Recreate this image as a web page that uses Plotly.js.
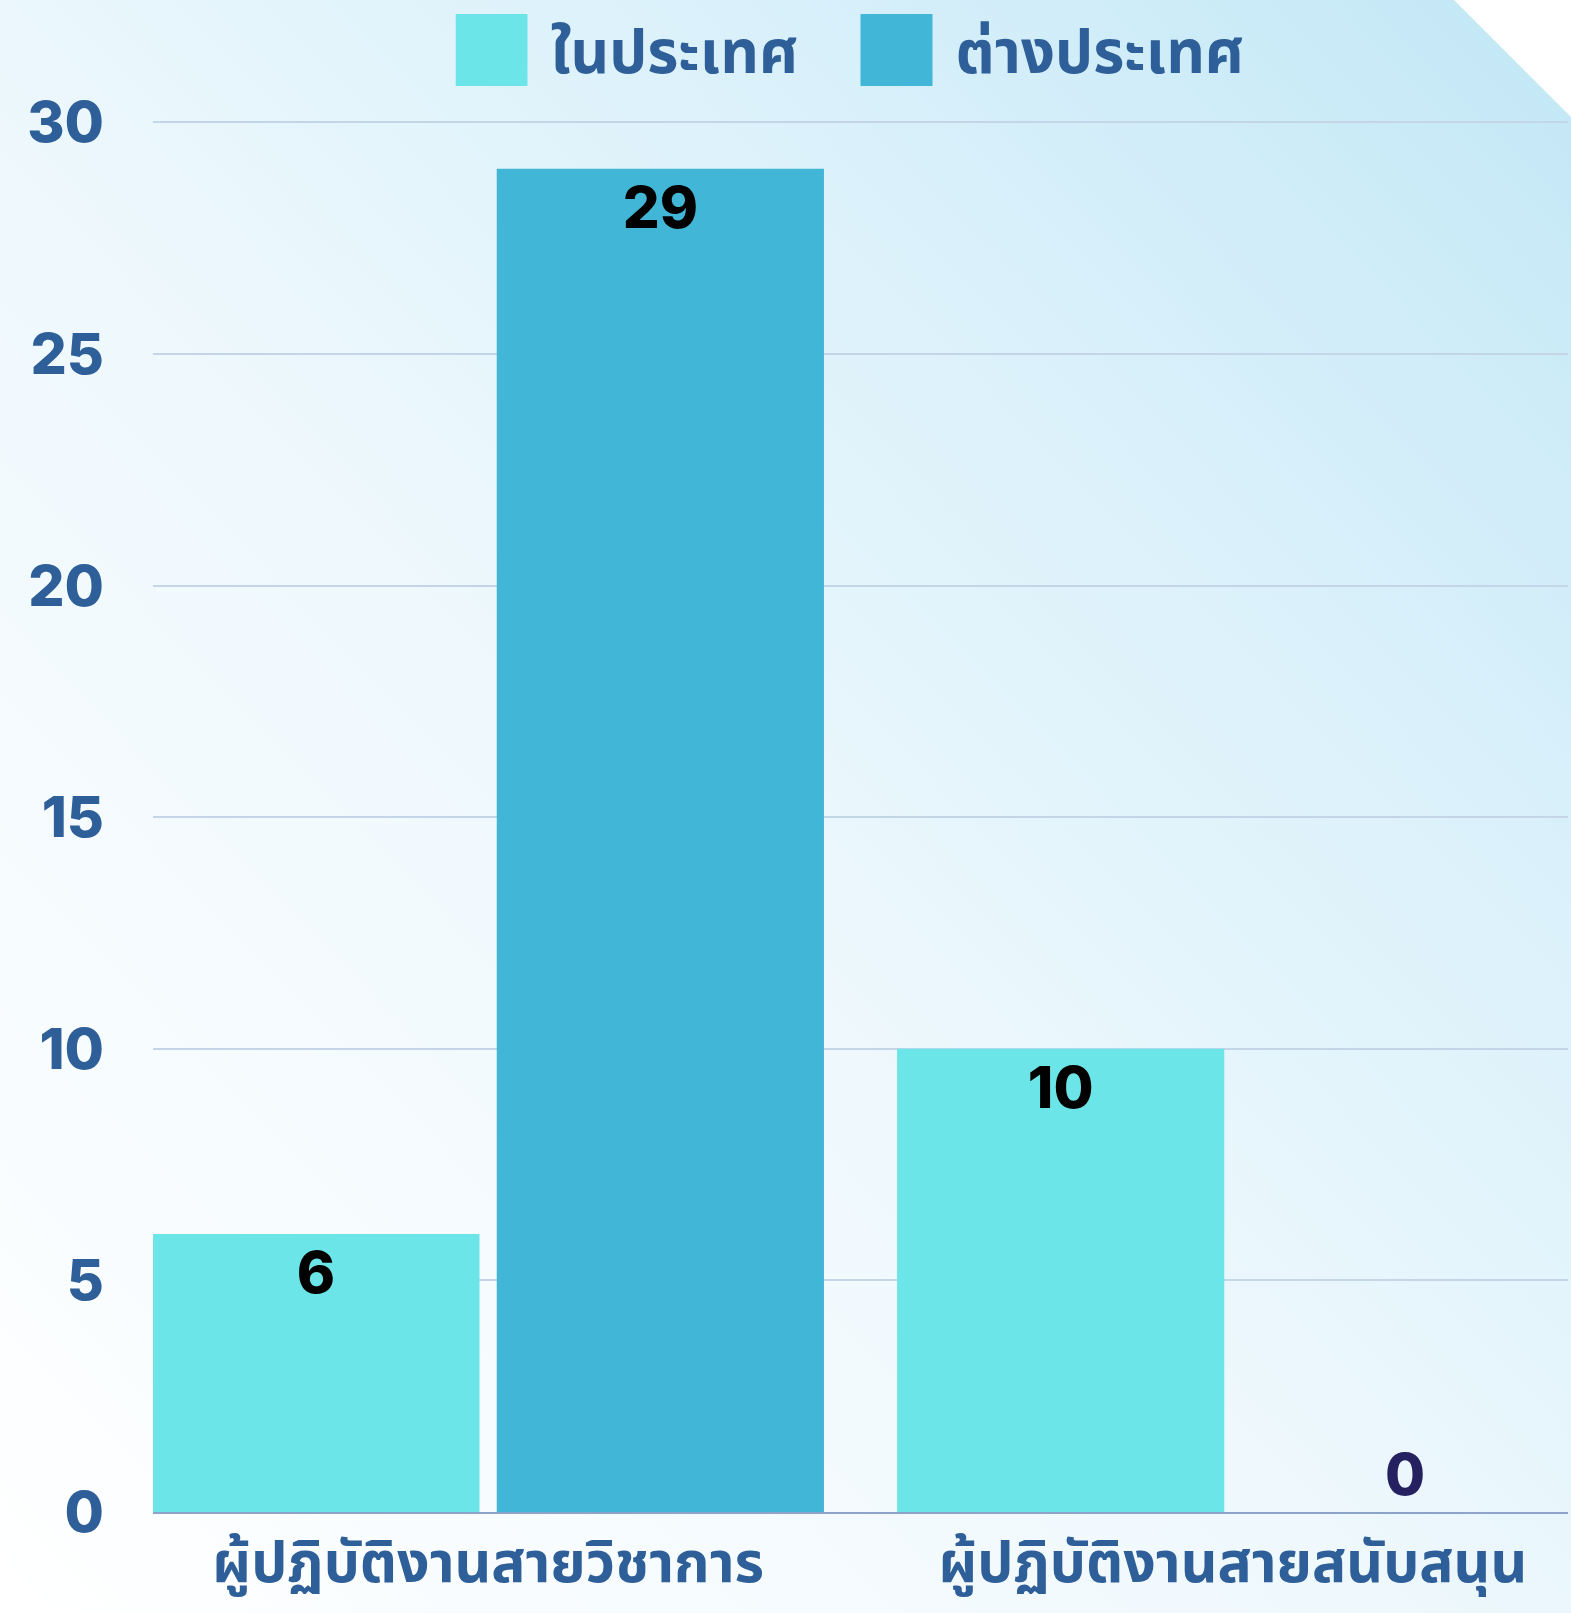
<!DOCTYPE html>
<html>
<head>
<meta charset="utf-8">
<script src="https://cdn.plot.ly/plotly-3.0.1.min.js"></script>
<style>
  html, body { margin: 0; padding: 0; background: #ffffff; }
  #chart {
    width: 1571px; height: 1613px;
    background: linear-gradient(to top right, #ffffff 0%, #eef8fd 45%, #d8f0fa 75%, #c2e7f6 100%);
    clip-path: polygon(0 0, 1454px 0, 100% 117px, 100% 100%, 0 100%);
  }
</style>
</head>
<body>
<div id="chart"></div>
<script>
const categories = ["ผู้ปฏิบัติงานสายวิชาการ", "ผู้ปฏิบัติงานสายสนับสนุน"];
const seriesNames = ["ในประเทศ", "ต่างประเทศ"];
const domesticValues = [6, 10];
const foreignValues = [29, 0];
const yTicks = [0, 5, 10, 15, 20, 25, 30];

const numFont = "Inter, Lato, 'Noto Sans', sans-serif";
const thaiFont = "'Noto Sans Thai', Kanit, Prompt, 'Noto Sans', sans-serif";

function labelPositions(vals) { return vals.map(v => v > 0 ? "inside" : "outside"); }

const traces = [
  {
    type: "bar", name: seriesNames[0], x: categories, y: domesticValues,
    marker: {color: "#6ce5e8"},
    text: domesticValues.map(String), textposition: labelPositions(domesticValues), insidetextanchor: "end",
    insidetextfont: {family: numFont, size: 58, color: "#000000", weight: 800},
    outsidetextfont: {family: numFont, size: 58, color: "#25205f", weight: 800},
    constraintext: "none", cliponaxis: false, hoverinfo: "skip"
  },
  {
    type: "bar", name: seriesNames[1], x: categories, y: foreignValues,
    marker: {color: "#42b6d6"},
    text: foreignValues.map(String), textposition: labelPositions(foreignValues), insidetextanchor: "end",
    insidetextfont: {family: numFont, size: 58, color: "#000000", weight: 800},
    outsidetextfont: {family: numFont, size: 58, color: "#25205f", weight: 800},
    constraintext: "none", cliponaxis: false, hoverinfo: "skip"
  }
];

const layout = {
  width: 1571, height: 1613,
  paper_bgcolor: "rgba(0,0,0,0)", plot_bgcolor: "rgba(0,0,0,0)",
  margin: {l: 153, r: 3, t: 121, b: 101},
  barmode: "group", bargap: 0.075, bargroupgap: 0.05,
  showlegend: true,
  legend: {
    orientation: "h", x: 0.5, xanchor: "center", y: 1.051, yanchor: "middle",
    bgcolor: "rgba(0,0,0,0)",
    font: {family: thaiFont, size: 60, color: "#2e5f98", weight: 700},
    itemwidth: 85, entrywidth: 305, entrywidthmode: "pixels",
    itemclick: false, itemdoubleclick: false
  },
  xaxis: {
    type: "category", range: [-0.45, 1.45],
    showgrid: false, zeroline: false,
    showline: true, linecolor: "#8ea3c9", linewidth: 2,
    ticks: "", ticklabelstandoff: 0,
    tickfont: {family: thaiFont, size: 57, color: "#2e5f98", weight: 700}
  },
  yaxis: {
    range: [0, 30.03], tickvals: yTicks, ticktext: yTicks.map(String),
    showgrid: true, gridcolor: "#c3d5e6", gridwidth: 2,
    zeroline: false, showline: false, ticks: "",
    ticklabelstandoff: 48,
    tickfont: {family: numFont, size: 57, color: "#2e5f98", weight: 800}
  },
  font: {family: numFont}
};

Plotly.newPlot("chart", traces, layout, {displayModeBar: false, staticPlot: true}).then(function(gd) {
  // enlarge legend swatches to match the reference's big squares
  document.querySelectorAll("#chart .legend .legendpoints path").forEach(function(p) {
    p.setAttribute("d", "M36,36H-36V-36H36Z");
    p.setAttribute("transform", "translate(36,0)");
  });
});
</script>
</body>
</html>
